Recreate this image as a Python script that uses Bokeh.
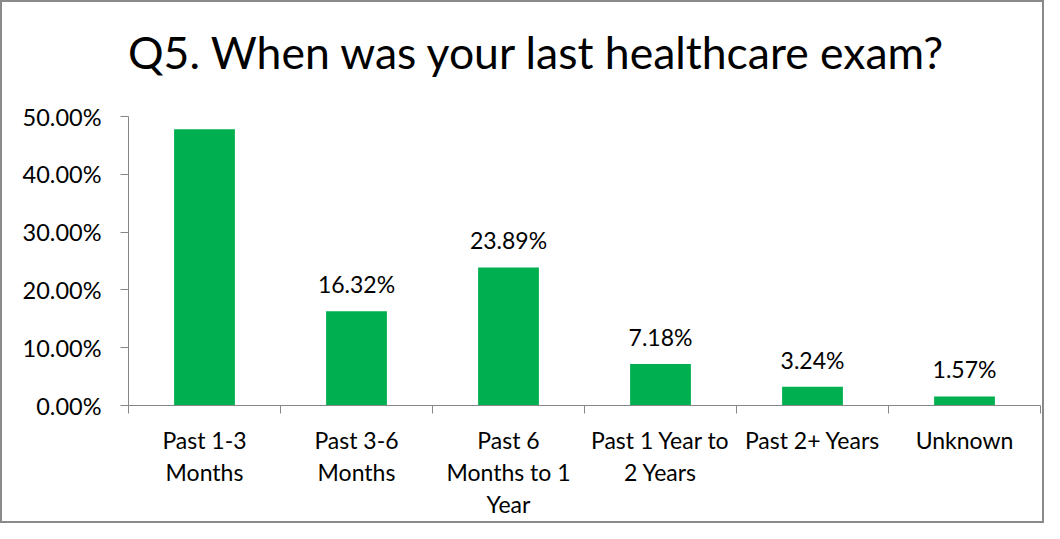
from bokeh.plotting import figure
from bokeh.models import ColumnDataSource, LabelSet, Div, LinearAxis, FixedTicker, NumeralTickFormatter, Range1d
from bokeh.layouts import column
from bokeh.core.properties import value
from bokeh.embed import file_html
from bokeh.resources import INLINE

title_text = "Q5. When was your last healthcare exam?"
categories = ["Past 1-3 Months", "Past 3-6 Months", "Past 6 Months to 1 Year",
              "Past 1 Year to 2 Years", "Past 2+ Years", "Unknown"]
tick_labels = ["Past 1-3\nMonths", "Past 3-6\nMonths", "Past 6\nMonths to 1\nYear",
               "Past 1 Year to\n2 Years", "Past 2+ Years", "Unknown"]
values = [0.4779, 0.1632, 0.2389, 0.0718, 0.0324, 0.0157]
y_ticks = [0.0, 0.1, 0.2, 0.3, 0.4, 0.5]

FONT = "Lato"
GRAY = "#868686"
GREEN = "#00B050"

n = len(categories)
xs = [i + 0.5 for i in range(n)]
source = ColumnDataSource(dict(x=xs, value=values, cat=categories,
                               label=[f"{v * 100:.2f}%" for v in values]))

title_div = Div(text=title_text, width=1040, height=80, margin=(0, 0, 0, 0),
                styles={"font-family": FONT, "font-size": "44.5px", "line-height": "1",
                        "color": "black", "white-space": "nowrap", "box-sizing": "border-box",
                        "padding-top": "28px", "text-indent": "126px",
                        "background": "white"})

p = figure(width=1040, height=439, output_backend="svg", toolbar_location=None,
           x_range=Range1d(0, n), y_range=Range1d(0, 0.5),
           x_axis_type=None, y_axis_type=None, title=None,
           min_border_left=126, min_border_right=2, min_border_top=34, min_border_bottom=116)
p.outline_line_color = None
p.background_fill_color = "white"
p.border_fill_color = "white"

p.vbar(x="x", top="value", width=0.4, source=source, fill_color=GREEN, line_color=None)

yaxis = LinearAxis(ticker=FixedTicker(ticks=y_ticks, minor_ticks=[]),
                   formatter=NumeralTickFormatter(format="0.00%"))
yaxis.axis_line_color = GRAY
yaxis.major_tick_line_color = GRAY
yaxis.major_tick_out = 8
yaxis.major_tick_in = 0
yaxis.minor_tick_line_color = None
yaxis.major_label_text_font = FONT
yaxis.major_label_text_font_size = "23.5px"
yaxis.major_label_text_color = "black"
yaxis.major_label_standoff = 19
p.add_layout(yaxis, "left")

xaxis = LinearAxis(ticker=FixedTicker(ticks=xs, minor_ticks=list(range(n + 1))),
                   major_label_overrides={x: lbl for x, lbl in zip(xs, tick_labels)})
xaxis.axis_line_color = GRAY
xaxis.major_tick_line_color = None
xaxis.minor_tick_line_color = GRAY
xaxis.minor_tick_out = 8
xaxis.minor_tick_in = 0
xaxis.major_label_text_font = FONT
xaxis.major_label_text_font_size = "23px"
xaxis.major_label_text_color = "black"
xaxis.major_label_text_line_height = 1.16
xaxis.major_label_standoff = 12
p.add_layout(xaxis, "below")

labels = LabelSet(x="x", y="value", text="label", source=source, text_align="center",
                  text_baseline="alphabetic", y_offset=18, text_font=value(FONT),
                  text_font_size="23px", text_color="black")
p.add_layout(labels)

layout = column(title_div, p, spacing=0,
                styles={"border": "2px solid #8a8a8a", "background": "white"})

open("out.html", "w").write(file_html(layout, INLINE))
